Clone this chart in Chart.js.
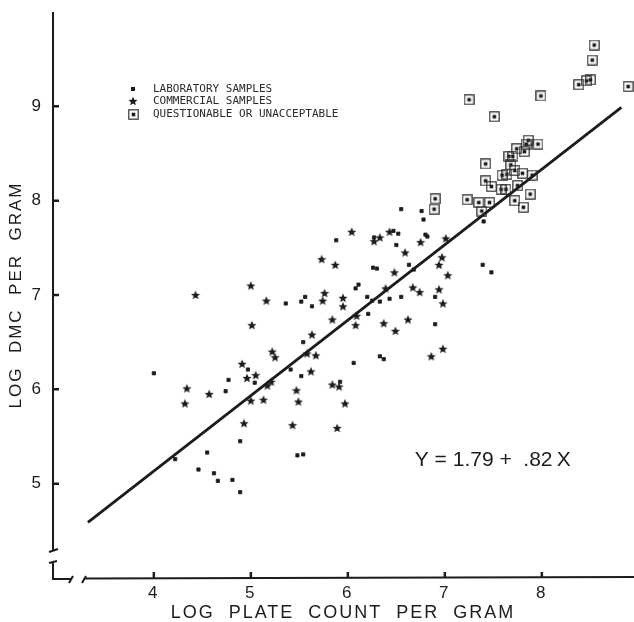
<!DOCTYPE html>
<html>
<head>
<meta charset="utf-8">
<script src="https://cdn.jsdelivr.net/npm/chart.js@4.4.1/dist/chart.umd.min.js"></script>
<style>
  html, body { margin: 0; padding: 0; background: #fff; }
</style>
</head>
<body>
<canvas id="chart" width="634" height="622"></canvas>
<script>
// Scatter of log DMC vs log plate count, redrawn from a scanned figure
const INK = '#1c1c1c';
const FONT = '"Liberation Sans", Arial, sans-serif';

const xTicks = [4, 5, 6, 7, 8];
const yTicks = [5, 6, 7, 8, 9];

// laboratory samples (small squares)
const labX = [5.88, 5.36, 5.52, 5.56, 5.63, 6.08, 6.11, 5.54, 7.40, 6.55, 6.76, 6.78, 6.27, 6.47, 6.52, 6.50,
    6.80, 6.82, 7.39, 7.48, 6.26, 6.30, 6.63, 6.68, 6.90, 6.20, 6.25, 6.33, 6.43, 6.55, 6.21, 6.90,
    6.06, 6.33, 6.37, 5.41, 5.52, 5.92, 5.48, 5.54, 4.89, 4.97, 5.04, 4.77, 4.74, 4.00, 4.55, 4.22,
    4.46, 4.62, 4.66, 4.81, 4.89];
const labY = [7.58, 6.91, 6.93, 6.98, 6.88, 7.07, 7.11, 6.50, 7.78, 7.91, 7.89, 7.80, 7.61, 7.68, 7.65, 7.53,
    7.64, 7.62, 7.32, 7.24, 7.29, 7.28, 7.32, 7.27, 6.98, 6.98, 6.94, 6.93, 6.96, 6.98, 6.80, 6.69,
    6.28, 6.35, 6.32, 6.21, 6.14, 6.08, 5.30, 5.31, 5.45, 6.21, 6.07, 6.10, 5.98, 6.17, 5.33, 5.26,
    5.15, 5.11, 5.03, 5.04, 4.91];

// commercial samples (stars)
const comX = [6.04, 5.73, 5.87, 4.43, 5.00, 5.16, 5.76, 5.74, 5.95, 5.95, 5.01, 5.84, 6.08, 5.63, 6.09,
    6.27, 6.33, 6.43, 6.75, 7.01, 6.59, 6.97, 6.94, 7.03, 6.48, 6.39, 6.67, 6.74, 6.94, 6.98, 6.37,
    6.62, 6.49, 5.58, 5.67, 6.86, 6.98, 5.62, 5.47, 5.49, 5.84, 5.91, 5.97, 5.43, 5.89, 5.22, 5.25,
    4.91, 5.05, 4.96, 5.17, 5.21, 5.00, 5.13, 4.93, 4.57, 4.34, 4.32];
const comY = [7.67, 7.38, 7.32, 7.00, 7.10, 6.94, 7.02, 6.94, 6.97, 6.88, 6.68, 6.74, 6.68, 6.58, 6.78,
    7.57, 7.61, 7.67, 7.56, 7.60, 7.45, 7.40, 7.32, 7.21, 7.24, 7.07, 7.08, 7.03, 7.06, 6.91, 6.70,
    6.74, 6.62, 6.38, 6.36, 6.35, 6.43, 6.19, 5.99, 5.87, 6.05, 6.03, 5.85, 5.62, 5.59, 6.40, 6.34,
    6.27, 6.15, 6.12, 6.04, 6.08, 5.88, 5.89, 5.64, 5.95, 6.01, 5.85];

// questionable or unacceptable (boxed)
const badX = [8.54, 8.52, 8.38, 8.46, 8.50, 8.89, 7.99, 7.25, 7.51, 7.86, 7.84, 7.82, 7.96, 7.74, 7.66,
    7.70, 7.42, 7.68, 7.72, 7.64, 7.59, 7.80, 7.90, 7.42, 7.48, 7.58, 7.63, 7.75, 7.88, 7.72, 7.81,
    7.23, 7.35, 7.46, 7.38, 6.90, 6.89];
const badY = [9.65, 9.49, 9.23, 9.27, 9.28, 9.21, 9.11, 9.07, 8.89, 8.64, 8.60, 8.52, 8.60, 8.55, 8.47,
    8.47, 8.39, 8.38, 8.32, 8.28, 8.27, 8.29, 8.27, 8.21, 8.15, 8.12, 8.12, 8.16, 8.07, 8.00, 7.93,
    8.01, 7.98, 7.98, 7.89, 8.02, 7.91];

// fitted line as drawn
const fitX = [3.32, 8.82];
const fitY = [4.59, 8.99];
const equation = 'Y = 1.79 +  .82\u2009X';

const keyLabels = ['LABORATORY SAMPLES', 'COMMERCIAL SAMPLES', 'QUESTIONABLE OR UNACCEPTABLE'];

function pts(xs, ys) {
    return xs.map((x, i) => ({ x, y: ys[i] }));
}

function starImage(size) {
    const c = document.createElement('canvas');
    c.width = c.height = size;
    const g = c.getContext('2d');
    const cx = size / 2, cy = size / 2 + 0.4, ro = size / 2 - 0.2, ri = ro * 0.45;
    g.beginPath();
    for (let i = 0; i < 10; i++) {
        const r = i % 2 ? ri : ro;
        const a = -Math.PI / 2 + i * Math.PI / 5;
        g.lineTo(cx + r * Math.cos(a), cy + r * Math.sin(a));
    }
    g.closePath();
    g.fillStyle = INK;
    g.fill();
    return c;
}

function boxImage(size) {
    const c = document.createElement('canvas');
    c.width = c.height = size;
    const g = c.getContext('2d');
    g.strokeStyle = '#333';
    g.lineWidth = 1.2;
    g.strokeRect(0.8, 0.8, size - 1.6, size - 1.6);
    g.fillStyle = INK;
    g.fillRect(size / 2 - 1.8, size / 2 - 1.8, 3.6, 3.6);
    return c;
}

const starImg = starImage(10);
const boxImg = boxImage(11);

// axis lines with the breaks, inward tick marks
const axesPlugin = {
    id: 'brokenAxes',
    beforeDraw(chart) {
        chart.ctx.letterSpacing = '2px';
    },
    beforeDatasetsDraw(chart) {
        const { ctx, chartArea: a, scales: { x, y } } = chart;
        ctx.letterSpacing = '0px';
        ctx.save();
        ctx.strokeStyle = INK;
        ctx.lineWidth = 2;
        const L = a.left + 1, B = a.bottom;
        ctx.beginPath();
        ctx.moveTo(L, a.top);
        ctx.lineTo(L, B - 28);
        ctx.moveTo(L - 4, B - 26);
        ctx.lineTo(L + 5, B - 29);
        ctx.moveTo(L - 4, B - 15);
        ctx.lineTo(L + 4, B - 17);
        ctx.moveTo(L, B - 16);
        ctx.lineTo(L, B + 1);
        ctx.lineTo(L + 19, B + 1);
        ctx.moveTo(L + 16, B + 5);
        ctx.lineTo(L + 20, B - 2);
        ctx.moveTo(L + 29, B + 5);
        ctx.lineTo(L + 33, B - 2);
        ctx.moveTo(L + 31, B + 0.5);
        ctx.lineTo(a.right, B - 1);
        ctx.stroke();

        ctx.lineWidth = 2.5;
        ctx.beginPath();
        xTicks.forEach(v => {
            const px = x.getPixelForValue(v);
            ctx.moveTo(px, B);
            ctx.lineTo(px, B - 6);
        });
        yTicks.forEach(v => {
            const py = y.getPixelForValue(v);
            ctx.moveTo(L, py);
            ctx.lineTo(L + 6, py);
        });
        ctx.stroke();
        ctx.restore();
    },
    afterDatasetsDraw(chart) {
        const { ctx, chartArea: a, scales: { x, y } } = chart;
        ctx.save();
        // equation
        ctx.fillStyle = INK;
        ctx.font = '21px ' + FONT;
        ctx.textBaseline = 'middle';
        ctx.textAlign = 'left';
        ctx.fillText(equation, x.getPixelForValue(6.69), y.getPixelForValue(5.25));

        // key
        const mx = a.left + 81, tx = a.left + 101;
        const rows = [a.top + 77, a.top + 89, a.top + 102];
        ctx.font = '11px "DejaVu Sans Mono", monospace';
        keyLabels.forEach((t, i) => {
            const ry = rows[i];
            if (i === 0) {
                ctx.fillStyle = INK;
                ctx.fillRect(mx - 2, ry - 2, 4, 4);
            } else {
                const img = i === 1 ? starImg : boxImg;
                ctx.drawImage(img, Math.round(mx - img.width / 2), Math.round(ry - img.height / 2));
            }
            ctx.fillStyle = '#2a2a2a';
            ctx.fillText(t, tx, ry);
        });
        ctx.restore();
    }
};

new Chart(document.getElementById('chart'), {
    type: 'scatter',
    data: {
        datasets: [
            {
                label: 'fit',
                data: pts(fitX, fitY),
                showLine: true,
                borderColor: INK,
                borderWidth: 2.8,
                pointRadius: 0,
                fill: false
            },
            {
                label: keyLabels[0],
                data: pts(labX, labY),
                pointStyle: 'rect',
                pointRadius: 2.3,
                backgroundColor: INK,
                borderColor: INK,
                borderWidth: 0.8
            },
            {
                label: keyLabels[1],
                data: pts(comX, comY),
                pointStyle: starImg,
                pointRadius: 5
            },
            {
                label: keyLabels[2],
                data: pts(badX, badY),
                pointStyle: boxImg,
                pointRadius: 6
            }
        ]
    },
    options: {
        responsive: false,
        animation: false,
        layout: { autoPadding: false, padding: { top: 12, left: 0, right: 0, bottom: 0 } },
        plugins: {
            legend: { display: false },
            tooltip: { enabled: false }
        },
        scales: {
            x: {
                type: 'linear',
                min: 2.95,
                max: 8.95,
                grid: { display: false },
                border: { display: false },
                afterBuildTicks: s => { s.ticks = xTicks.map(v => ({ value: v })); },
                afterFit: s => { s.height = 44; s.paddingLeft = 0; s.paddingRight = 0; },
                ticks: { color: INK, font: { family: FONT, size: 17 }, padding: -3, maxRotation: 0, autoSkip: false },
                title: {
                    display: true,
                    text: 'LOG  PLATE  COUNT  PER  GRAM',
                    color: INK,
                    font: { family: FONT, size: 18 },
                    padding: { top: 0, bottom: -2 }
                }
            },
            y: {
                type: 'linear',
                min: 4,
                max: 10,
                grid: { display: false },
                border: { display: false },
                afterBuildTicks: s => { s.ticks = yTicks.map(v => ({ value: v })); },
                afterFit: s => { s.width = 52; s.paddingTop = 0; s.paddingBottom = 0; },
                ticks: { color: INK, font: { family: FONT, size: 17 }, padding: 1, autoSkip: false },
                title: {
                    display: true,
                    text: 'LOG  DMC  PER  GRAM',
                    color: INK,
                    font: { family: FONT, size: 17 },
                    padding: { top: 6, bottom: 0 }
                }
            }
        }
    },
    plugins: [axesPlugin]
});
</script>
</body>
</html>
